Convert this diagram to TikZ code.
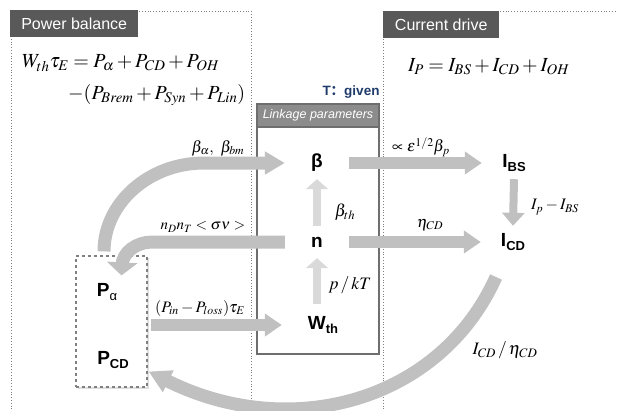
\documentclass[tikz,border=0pt]{standalone}
\usepackage{mathptmx}
\usepackage[no-math]{fontspec}
\newfontfamily\sans{Liberation Sans}
\newfontfamily\cjk{Noto Sans CJK SC}
\usetikzlibrary{positioning,arrows.meta,shadows}

\definecolor{flowgray}{HTML}{C0C0C0}
\definecolor{lightflow}{HTML}{D9D9D9}
\definecolor{titlegray}{HTML}{595959}
\definecolor{headgray}{HTML}{8C8C8C}
\definecolor{framegray}{HTML}{6E6E6E}
\definecolor{givenblue}{HTML}{1F3B6B}

% bold symbol with a lowered subscript
\newcommand{\bsub}[2]{#1\raisebox{-0.35ex}{\fontsize{13}{13}\selectfont #2}}

\begin{document}
\begin{tikzpicture}[
    x=1pt, y=-1pt,
    panel/.style={draw=gray, dotted, line width=0.8pt},
    title/.style={fill=titlegray, text=white, font=\sans\fontsize{16}{18}\selectfont, inner sep=0pt, anchor=north west},
    var/.style={font=\sans\bfseries\fontsize{19}{21}\selectfont, minimum width=64pt, minimum height=32pt, inner sep=0pt},
    eq/.style={font=\fontsize{20}{24}\selectfont, inner sep=0pt},
    lbl/.style={font=\fontsize{16}{18}\selectfont, inner sep=0pt},
    flow/.style={draw=flowgray, line width=12pt, -{Triangle[width=22pt,length=17pt]}},
    flowthin/.style={draw=flowgray, line width=8pt, -{Triangle[width=22pt,length=13pt]}},
    inner/.style={draw=lightflow, line width=8pt, -{Triangle[width=22pt,length=10pt]}},
    loop/.style={draw=flowgray, line width=13pt}
]
\useasboundingbox (0,0) rectangle (617,410);

% panels
\draw[panel] (11,412) -- (11,11) -- (251,11) -- (251,412);
\draw[panel] (383,412) -- (383,11) -- (617,11);
\node[title, minimum width=128pt, minimum height=27pt] (pbtitle) at (10,10) {Power balance};
\node[title, minimum width=116pt, minimum height=27pt] (cdtitle) at (383,11) {Current drive};

% equations
\node[eq, anchor=west] (pbeq) at (22,63) {$W_{th}\tau_E = P_\alpha + P_{CD} + P_{OH}$};
\node[eq, anchor=west] (pbloss) at (68,95) {$-(P_{Brem} + P_{Syn} + P_{Lin})$};
\node[eq, anchor=west] (cdeq) at (408,67) {$I_P = I_{BS} + I_{CD} + I_{OH}$};

% linkage box
\node[draw=framegray, line width=1.4pt, minimum width=122pt, minimum height=250pt, inner sep=0pt] (link) at (318,229) {};
\node[draw=framegray, line width=1.4pt, fill=headgray, text=white, font=\sans\itshape\fontsize{12.5}{14}\selectfont,
      minimum width=122pt, minimum height=23pt, inner sep=0pt, anchor=north] (linkhd) at (link.north) {Linkage parameters};
\node[anchor=south east, inner sep=0pt, text=givenblue, font=\sans\bfseries\fontsize{13.5}{15}\selectfont] (given) at ([yshift=5pt]link.north east) {T{\cjk ：}given};

% power box
\node[draw=gray, dashed, line width=1.2pt, fill=white, drop shadow={opacity=0.25, shadow xshift=1.5pt, shadow yshift=-1.5pt},
      minimum width=71pt, minimum height=131pt, inner sep=0pt] (pbox) at (111.5,321.5) {};

% quantities
\node[var] (beta) at (317,163) {β};
\node[var] (n) at (317,242) {n};
\node[var, minimum width=82pt, minimum height=42pt] (wth) at (323,325) {\bsub{W}{th}};
\node[var] (ibs) at (514,163) {\bsub{I}{BS}};
\node[var] (icd) at (513,242) {\bsub{I}{CD}};
\node[var] (palpha) at (107,292) {P\raisebox{-0.35ex}{\fontsize{13}{13}\selectfont\mdseries α}};
\node[var] (pcd) at (113,360) {\bsub{P}{CD}};

% links
\draw[flow] (beta.east) -- (ibs.west);
\draw[flow] (n.east) -- (icd.west);
\draw[flowthin] (ibs.south) -- (icd.north);
\draw[inner] (n.north) -- (beta.south);
\draw[inner] (wth.north -| n) -- (n.south);
\draw[flow, shorten <=3pt] (pbox.east |- wth) -- (wth.west);
\draw[loop, -{Triangle[width=22pt,length=20pt]}] ([xshift=-7.5pt,yshift=4pt]pbox.north)
    .. controls (104,203) and (149,163) .. (204,163) -- (beta.west);
\draw[loop, -{Triangle[width=30pt,length=13pt]}] (n.west) -- (152,242)
    .. controls (137,242) and (122,252) .. (122,266) -- ([xshift=10pt,yshift=-20pt]pbox.north);
\draw[loop, -{Triangle[width=23pt,length=22pt]}] ([xshift=-17pt,yshift=-35pt]icd.center)
    .. controls (440,402) and (290,442) .. ([xshift=1pt,yshift=-50pt]pbox.east);

% labels
\node[lbl] (lbalpha) at (218,148) {$\beta_\alpha,\ \beta_{bm}$};
\node[lbl, font=\fontsize{15}{17}\selectfont] (lreact) at (203,227) {$n_D n_T < \sigma\nu >$};
\node[lbl] (lpin) at (200,308) {$(P_{in}-P_{loss})\tau_E$};
\node[lbl] (leps) at (421,147) {$\propto \varepsilon^{1/2}\beta_p$};
\node[lbl] (leta) at (430,225) {$\eta_{CD}$};
\node[lbl] (lip) at (555,207) {$I_p - I_{BS}$};
\node[lbl, font=\fontsize{17}{19}\selectfont] (lbth) at (345,212) {$\beta_{th}$};
\node[lbl, font=\fontsize{17.5}{19}\selectfont] (lpkt) at (350,285) {$p \,/\, kT$};
\node[lbl, font=\fontsize{17.5}{19}\selectfont] (licd) at (505,350) {$I_{CD} \,/\, \eta_{CD}$};

\end{tikzpicture}
\end{document}
